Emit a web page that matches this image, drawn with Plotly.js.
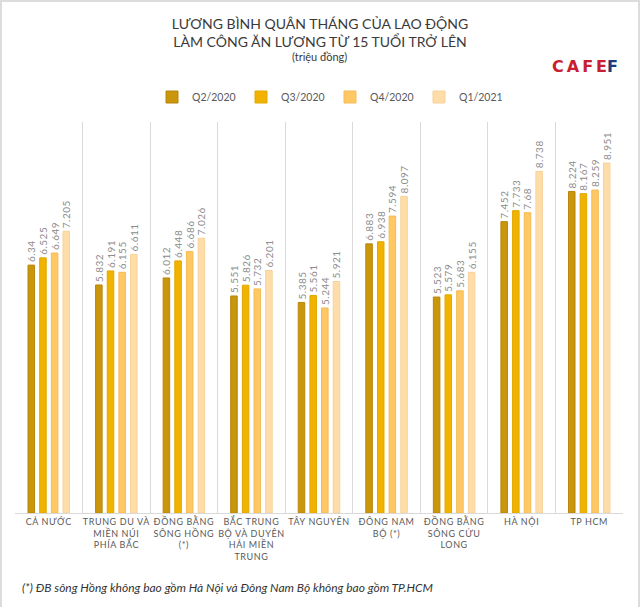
<!DOCTYPE html>
<html>
<head>
<meta charset="utf-8">
<script src="https://cdn.plot.ly/plotly-3.0.1.min.js"></script>
<style>
html,body{margin:0;padding:0;background:#fff;}
#wrap{position:relative;width:640px;height:607px;}
#chart{width:640px;height:607px;}
#frame{position:absolute;left:0;top:0;width:640px;height:607px;box-sizing:border-box;border-top:2px solid #dcdcdc;border-left:2px solid #dcdcdc;border-right:2px solid #dcdcdc;pointer-events:none;}
.xtick text{letter-spacing:0.6px;}
.bartext{letter-spacing:0.5px;}
</style>
</head>
<body>
<div id="wrap"><div id="chart"></div><div id="frame"></div></div>
<script>
const categories = [
  "CẢ NƯỚC",
  "TRUNG DU VÀ<br>MIỀN NÚI<br>PHÍA BẮC",
  "ĐỒNG BẰNG<br>SÔNG HỒNG<br>(*)",
  "BẮC TRUNG<br>BỘ VÀ DUYÊN<br>HẢI MIỀN<br>TRUNG",
  "TÂY NGUYÊN",
  "ĐÔNG NAM<br>BỘ (*)",
  "ĐỒNG BẰNG<br>SÔNG CỬU<br>LONG",
  "HÀ NỘI",
  "TP HCM"
];
const seriesNames = ["Q2/2020", "Q3/2020", "Q4/2020", "Q1/2021"];
const q2_2020 = [6.34, 5.832, 6.012, 5.551, 5.385, 6.883, 5.523, 7.452, 8.224];
const q3_2020 = [6.525, 6.191, 6.448, 5.826, 5.561, 6.938, 5.579, 7.733, 8.167];
const q4_2020 = [6.649, 6.155, 6.686, 5.732, 5.244, 7.594, 5.683, 7.68, 8.259];
const q1_2021 = [7.205, 6.611, 7.026, 6.201, 5.921, 8.097, 6.155, 8.738, 8.951];

const seriesValues = [q2_2020, q3_2020, q4_2020, q1_2021];
const fills = ["#C9960C", "#F1B300", "#FFC864", "#FFDDA8"];
const edges = ["#B8860B", "#E0A800", "#F5BB55", "#F7D29A"];

const traces = seriesValues.map((vals, i) => ({
  type: "bar",
  name: seriesNames[i],
  x: categories,
  y: vals,
  marker: {color: fills[i], line: {color: edges[i], width: 1}},
  texttemplate: "%{y}",
  textposition: "outside",
  textangle: -90,
  constraintext: "none",
  cliponaxis: false,
  textfont: {family: "Lato, sans-serif", size: 10, color: "#8c8c8c"},
  hoverinfo: "skip"
}));

const W = 640, H = 607;
const mL = 15, mR = 17, mT = 122, mB = 94;
const pw = W - mL - mR, ph = H - mT - mB;
const px = x => (x - mL) / pw;
const py = y => (H - mB - y) / ph;

const layout = {
  width: W, height: H,
  margin: {l: mL, r: mR, t: mT, b: mB, pad: 0},
  paper_bgcolor: "#ffffff",
  plot_bgcolor: "#ffffff",
  barmode: "group",
  bargap: 0.31,
  bargroupgap: 0.44,
  showlegend: true,
  title: {
    text: "LƯƠNG BÌNH QUÂN THÁNG CỦA LAO ĐỘNG<br>LÀM CÔNG ĂN LƯƠNG TỪ 15 TUỔI TRỞ LÊN",
    font: {family: "Lato, sans-serif", size: 14, color: "#3a3a3a"},
    x: 0.5, xanchor: "center",
    y: 1 - 29 / H, yref: "container", yanchor: "middle"
  },
  legend: {
    orientation: "h",
    x: px(330), xanchor: "center",
    y: py(97), yanchor: "middle",
    font: {family: "Lato, sans-serif", size: 10.5, color: "#595959"},
    itemwidth: 30,
    entrywidth: 44,
    bgcolor: "rgba(0,0,0,0)"
  },
  xaxis: {
    type: "category",
    tickson: "boundaries",
    showgrid: true,
    gridcolor: "#d9d9d9",
    gridwidth: 1,
    showline: true,
    linecolor: "#d9d9d9",
    linewidth: 1,
    ticks: "",
    tickangle: 0,
    tickfont: {family: "Lato, sans-serif", size: 9, color: "#595959"},
    fixedrange: true
  },
  yaxis: {
    range: [0, 10],
    visible: false,
    showgrid: false,
    zeroline: false,
    fixedrange: true
  },
  annotations: [
    {
      text: "(triệu đồng)", xref: "paper", yref: "paper",
      x: 0.5, y: py(57), xanchor: "center", yanchor: "middle",
      showarrow: false,
      font: {family: "Lato, sans-serif", size: 11, color: "#3a3a3a"}
    },
    {
      text: "<b><span style=\"color:#C8202F;letter-spacing:3px\">CAF</span><span style=\"color:#C8202F\">E</span><span style=\"color:#1E3E7B\">F</span></b>",
      xref: "paper", yref: "paper",
      x: px(585), y: py(67), xanchor: "center", yanchor: "middle",
      showarrow: false,
      font: {family: "DejaVu Sans, sans-serif", size: 16, color: "#C8202F"}
    },
    {
      text: "<i>(*) ĐB sông Hồng không bao gồm Hà Nội và Đông Nam Bộ không bao gồm TP.HCM</i>",
      xref: "paper", yref: "paper",
      x: px(20), y: py(587), xanchor: "left", yanchor: "middle",
      showarrow: false,
      font: {family: "Lato, sans-serif", size: 12, color: "#333333"}
    }
  ]
};

Plotly.newPlot("chart", traces, layout, {displayModeBar: false, staticPlot: true});
</script>
</body>
</html>
